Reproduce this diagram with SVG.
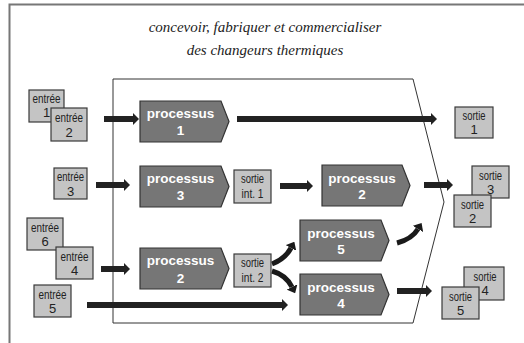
<svg xmlns="http://www.w3.org/2000/svg" width="524" height="343" viewBox="0 0 524 343">
<style>
.box{fill:#c4c4c4;stroke:#3a3a3a;stroke-width:1.2}
.proc{fill:#767676;stroke:#333;stroke-width:1.2}
.bt{font-family:"Liberation Sans",Arial,sans-serif;font-size:13px;fill:#222;text-anchor:middle}
.pt{font-family:"Liberation Sans",Arial,sans-serif;font-size:13.5px;font-weight:bold;fill:#fff;text-anchor:middle}
.title{font-family:"Liberation Serif","Times New Roman",serif;font-style:italic;font-size:15px;fill:#222;text-anchor:middle}
.arr{fill:none;stroke:#222;stroke-width:6;marker-end:url(#ah)}
.carr{fill:none;stroke:#1a1a1a;stroke-width:5;marker-end:url(#ah2)}
</style>
<defs>
<marker id="ah" markerUnits="userSpaceOnUse" viewBox="0 0 6 12" markerWidth="6" markerHeight="12" refX="0" refY="6" orient="auto"><path d="M0,0 L6,6 L0,12 Z" fill="#222"/></marker>
<marker id="ah2" markerUnits="userSpaceOnUse" viewBox="0 0 7 12" markerWidth="7" markerHeight="12" refX="0" refY="6" orient="auto"><path d="M0,0 L7,6 L0,12 Z" fill="#1a1a1a"/></marker>
</defs>
<rect width="524" height="343" fill="#fff"/>
<rect x="9.5" y="4.5" width="600" height="400" fill="none" stroke="#777" stroke-width="2"/>
<g id="title">
<text class="title" x="265" y="32">concevoir, fabriquer et commercialiser</text>
<text class="title" x="265" y="55">des changeurs thermiques</text>
</g>
<g id="frame"><path d="M113,79 L413,79 L444,202 L413,323 L113,323 Z" fill="none" stroke="#333" stroke-width="1"/></g>
<g id="connectors">
<path class="arr" d="M104,119 H133"/>
<path class="arr" d="M237,119 H431"/>
<path class="arr" d="M96,185 H124"/>
<path class="arr" d="M280,186 H307"/>
<path class="arr" d="M424,185 H447"/>
<path class="arr" d="M101,269 H124"/>
<path class="arr" d="M87,305 H282"/>
<path class="arr" d="M397,291 H426"/>
<path class="carr" d="M397,243 Q412,239 418,229"/>
<path class="carr" d="M272,264 Q285,259 291,248"/>
<path class="carr" d="M272,271 Q286,275 292,287"/>
</g>
<g id="entree1"><rect class="box" x="29" y="90" width="35" height="32"/><text class="bt" x="46.5" y="103" textLength="28" lengthAdjust="spacingAndGlyphs">entrée</text><text class="bt" x="46.5" y="117">1</text></g>
<g id="entree2"><rect class="box" x="51" y="108" width="36" height="33"/><text class="bt" x="69" y="122" textLength="28" lengthAdjust="spacingAndGlyphs">entrée</text><text class="bt" x="69" y="137">2</text></g>
<g id="entree3"><rect class="box" x="54" y="168" width="33" height="31"/><text class="bt" x="70.5" y="181" textLength="27" lengthAdjust="spacingAndGlyphs">entrée</text><text class="bt" x="70.5" y="196">3</text></g>
<g id="entree6"><rect class="box" x="27" y="218" width="36" height="32"/><text class="bt" x="45" y="232" textLength="28" lengthAdjust="spacingAndGlyphs">entrée</text><text class="bt" x="45" y="246">6</text></g>
<g id="entree4"><rect class="box" x="56" y="247" width="37" height="32"/><text class="bt" x="74.5" y="261" textLength="28" lengthAdjust="spacingAndGlyphs">entrée</text><text class="bt" x="74.5" y="275">4</text></g>
<g id="entree5"><rect class="box" x="34" y="285" width="37" height="32"/><text class="bt" x="52.5" y="299" textLength="28" lengthAdjust="spacingAndGlyphs">entrée</text><text class="bt" x="52.5" y="313">5</text></g>
<g id="processus1"><polygon class="proc" points="140,101 221,101 229,121.5 221,142 140,142"/><text class="pt" x="180.5" y="118">processus</text><text class="pt" x="180.5" y="135">1</text></g>
<g id="processus3"><polygon class="proc" points="140,166 221,166 229,186.5 221,207 140,207"/><text class="pt" x="180.5" y="183">processus</text><text class="pt" x="180.5" y="200">3</text></g>
<g id="processus2a"><polygon class="proc" points="140,248 221,248 229,268.5 221,289 140,289"/><text class="pt" x="180.5" y="265">processus</text><text class="pt" x="180.5" y="283">2</text></g>
<g id="sortieint1"><rect class="box" x="234" y="170" width="37" height="33"/><text class="bt" x="252.5" y="183" textLength="23" lengthAdjust="spacingAndGlyphs">sortie</text><text class="bt" x="252.5" y="198" textLength="22" lengthAdjust="spacingAndGlyphs">int. 1</text></g>
<g id="sortieint2"><rect class="box" x="234" y="254" width="37" height="33"/><text class="bt" x="252.5" y="267" textLength="23" lengthAdjust="spacingAndGlyphs">sortie</text><text class="bt" x="252.5" y="282" textLength="22" lengthAdjust="spacingAndGlyphs">int. 2</text></g>
<g id="processus2b"><polygon class="proc" points="322,165 402,165 410,185.5 402,206 322,206"/><text class="pt" x="362" y="183">processus</text><text class="pt" x="362" y="199">2</text></g>
<g id="processus5"><polygon class="proc" points="300,220 381,220 389,240.5 381,261 300,261"/><text class="pt" x="341" y="238">processus</text><text class="pt" x="341" y="254">5</text></g>
<g id="processus4"><polygon class="proc" points="300,274 381,274 389,294.5 381,315 300,315"/><text class="pt" x="341" y="292">processus</text><text class="pt" x="341" y="308">4</text></g>
<g id="sortie1"><rect class="box" x="455" y="107" width="38" height="31"/><text class="bt" x="474" y="120" textLength="23" lengthAdjust="spacingAndGlyphs">sortie</text><text class="bt" x="474" y="134">1</text></g>
<g id="sortie3"><rect class="box" x="472" y="166" width="37" height="32"/><text class="bt" x="490.5" y="180" textLength="23" lengthAdjust="spacingAndGlyphs">sortie</text><text class="bt" x="490.5" y="194">3</text></g>
<g id="sortie2"><rect class="box" x="454" y="195" width="37" height="32"/><text class="bt" x="472.5" y="209" textLength="23" lengthAdjust="spacingAndGlyphs">sortie</text><text class="bt" x="472.5" y="223">2</text></g>
<g id="sortie4"><rect class="box" x="464" y="267" width="40" height="33"/><text class="bt" x="485" y="281" textLength="23" lengthAdjust="spacingAndGlyphs">sortie</text><text class="bt" x="485" y="295">4</text></g>
<g id="sortie5"><rect class="box" x="442" y="287" width="37" height="32"/><text class="bt" x="460.5" y="301" textLength="23" lengthAdjust="spacingAndGlyphs">sortie</text><text class="bt" x="460.5" y="315">5</text></g>
</svg>
